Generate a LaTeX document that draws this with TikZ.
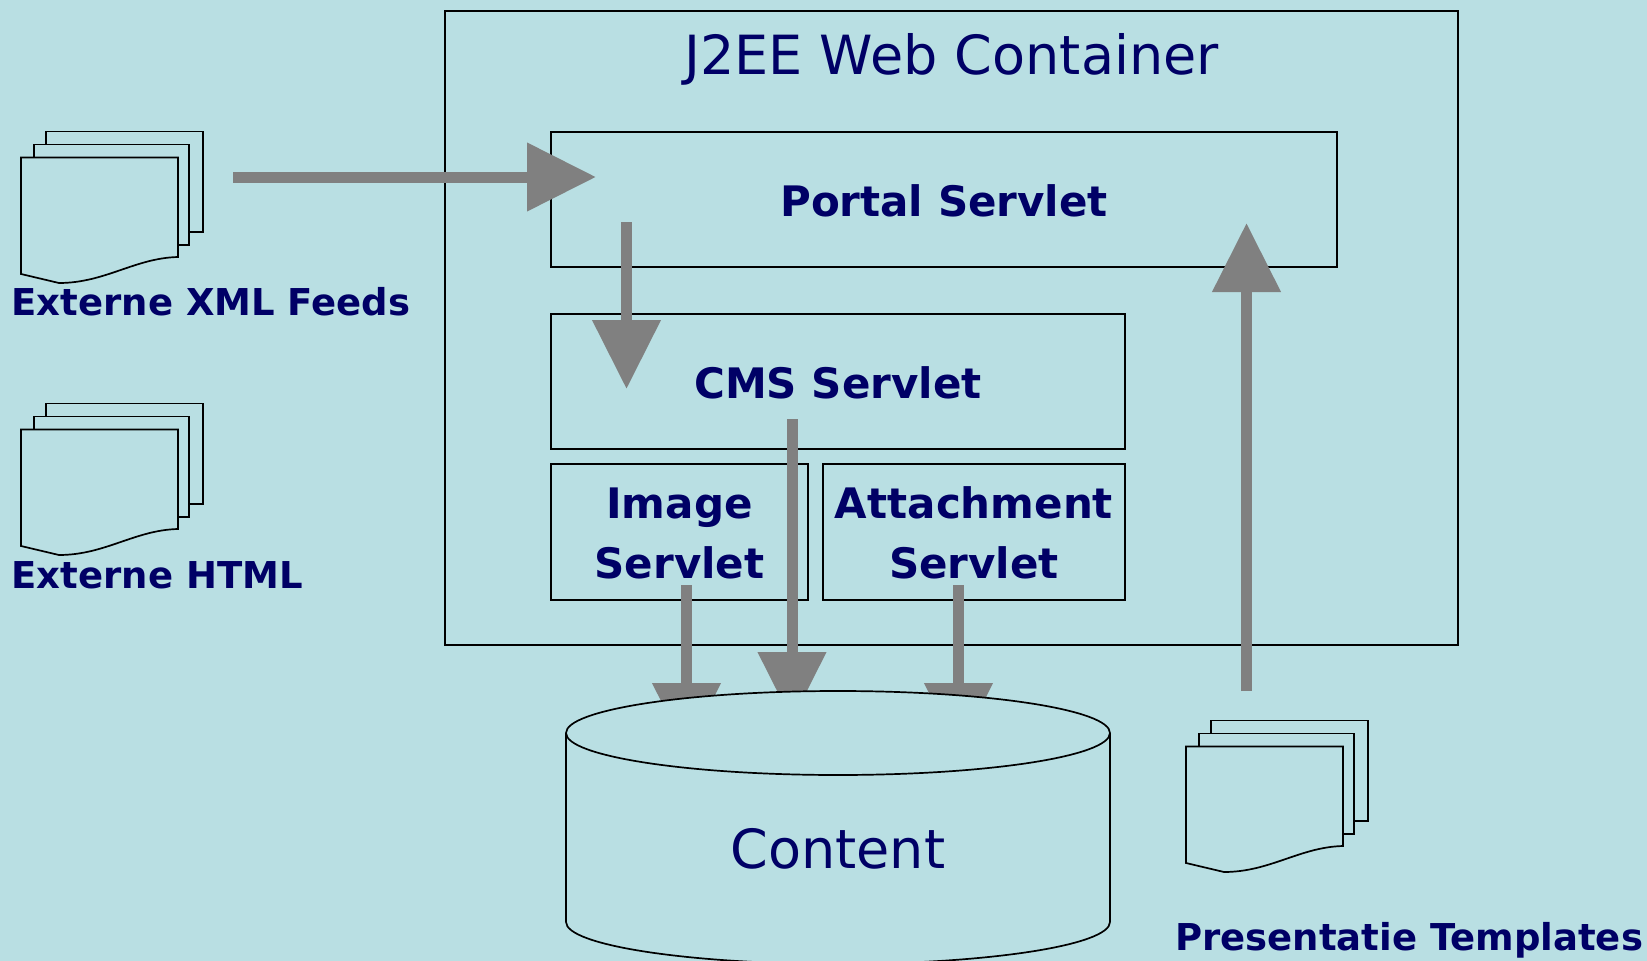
\documentclass[tikz,border=0pt]{standalone}
\usepackage{fontspec}
\setmainfont{DejaVu Sans}
\usepackage{tikz}
\usetikzlibrary{arrows.meta}
\usepackage{xcolor}
\definecolor{panelbg}{HTML}{B9DFE3}
\definecolor{labelnavy}{HTML}{000066}
\definecolor{flowgray}{HTML}{808080}
\tikzset{
  outline/.style={draw=black,line width=1.7pt},
  sheet/.style={outline,fill=panelbg},
  servletbox/.style={outline,inner sep=0pt,outer sep=0pt,text=labelnavy,align=center,
    font=\fontsize{42}{60}\selectfont\bfseries},
  biglabel/.style={anchor=base,inner sep=0pt,text=labelnavy,font=\fontsize{54}{64}\selectfont},
  doclabel/.style={anchor=base west,inner sep=0pt,text=labelnavy,font=\fontsize{37}{44}\selectfont\bfseries},
  flow/.style={draw=flowgray,line width=11pt,-{Triangle[length=69pt,width=66pt]}},
}
\newcommand{\docstack}[2]{%
\begin{scope}[shift={(#1,#2)}]
\filldraw[sheet] (46,131.5) -- (203,131.5) -- (203,232) -- (46,232) -- cycle;
\filldraw[sheet] (34,144.5) -- (189,144.5) -- (189,245) -- (34,245) -- cycle;
\filldraw[sheet] (21,157.5) -- (178,157.5) -- (178,257) .. controls (135,258) and (105,283) .. (59,283) -- (21,274) -- cycle;
\end{scope}}
\begin{document}
\begin{tikzpicture}[scale=1.000000,x=1pt,y=-1pt]
\useasboundingbox (0,0) rectangle (1647,961);
\fill[panelbg] (0,0) rectangle (1647,961);
% Drawing boxes
\node[servletbox,minimum width=1013pt,minimum height=634pt] (container) at (951.5,328) {};
\node[biglabel] (containerlabel) at (951.5,74) {J2EE Web Container};
\node[servletbox,minimum width=786pt,minimum height=135pt,text height=33pt,text depth=0pt] (portal) at (944,199.5) {Portal Servlet};
\node[servletbox,minimum width=574pt,minimum height=135pt,text height=33pt,text depth=0pt] (cms) at (838,381.5) {CMS Servlet};
\node[servletbox,minimum width=257pt,minimum height=136pt,text height=92pt,text depth=0pt] (image) at (679.5,532) {Image\\Servlet};
\node[servletbox,minimum width=302pt,minimum height=136pt,text height=92pt,text depth=0pt] (attachment) at (974,532) {Attachment\\Servlet};
% Drawing document stacks
\docstack{0}{0}
\node[doclabel] (xmllabel) at (11.5,315) {Externe XML Feeds};
\docstack{0}{272}
\node[doclabel] (htmllabel) at (11.5,588) {Externe HTML};
\docstack{1165}{589}
\node[doclabel] (templatelabel) at (1175,950) {Presentatie Templates};
% Drawing arrows
\coordinate (xmlout) at (233,177);
\coordinate (portalin) at (596,177);
\coordinate (portalout) at (626.5,222);
\coordinate (cmsin) at (626.5,389);
\coordinate (templateout) at (1246.5,691);
\coordinate (portalback) at (1246.5,223);
\coordinate (imageout) at (686.5,585);
\coordinate (imagestore) at (686.5,752);
\coordinate (cmsout) at (792,419);
\coordinate (cmsstore) at (792,721);
\coordinate (attachout) at (958.5,585);
\coordinate (attachstore) at (958.5,752);
\draw[flow] (xmlout) -- (portalin);
\draw[flow] (portalout) -- (cmsin);
\draw[flow] (templateout) -- (portalback);
\draw[flow] (imageout) -- (imagestore);
\draw[flow] (cmsout) -- (cmsstore);
\draw[flow] (attachout) -- (attachstore);
% Drawing content store
\filldraw[sheet] (566,733) arc[start angle=180,end angle=360,x radius=272,y radius=42] -- (1110,922) arc[start angle=0,end angle=180,x radius=272,y radius=42] -- cycle;
\draw[outline] (566,733) arc[start angle=180,end angle=360,x radius=272,y radius=-42];
\node[biglabel] (content) at (838,868) {Content};
\end{tikzpicture}
\end{document}
